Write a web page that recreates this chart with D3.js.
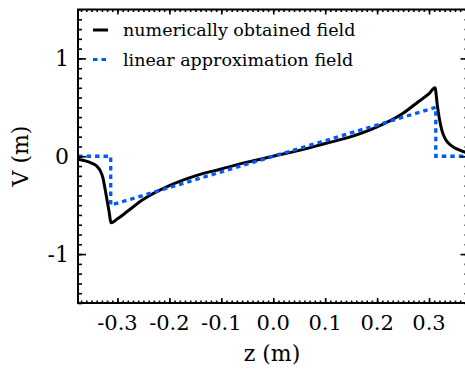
<!DOCTYPE html>
<html>
<head>
<meta charset="utf-8">
<script src="https://cdn.jsdelivr.net/npm/d3@7"></script>
<style>
  html, body { margin: 0; padding: 0; background: #fff; }
</style>
</head>
<body>
<div id="chart"></div>
<script>
// numerically obtained field
const numZ = [-0.376, -0.36, -0.35, -0.34, -0.333, -0.328, -0.324, -0.320, -0.316, -0.3125,
  -0.30, -0.28, -0.25, -0.20, -0.15, -0.10, -0.05, 0,
  0.05, 0.10, 0.15, 0.20, 0.25, 0.28, 0.30, 0.3115,
  0.316, 0.320, 0.325, 0.331, 0.338, 0.348, 0.36, 0.376];
const numV = [-0.03, -0.05, -0.07, -0.10, -0.15, -0.22, -0.33, -0.45, -0.57, -0.68,
  -0.64, -0.56, -0.44, -0.30, -0.20, -0.13, -0.06, 0,
  0.06, 0.13, 0.20, 0.30, 0.44, 0.56, 0.64, 0.70,
  0.52, 0.38, 0.26, 0.18, 0.13, 0.09, 0.06, 0.03];

// linear approximation field
const linZ = [-0.376, -0.313, -0.313, 0.313, 0.313, 0.376];
const linV = [0, 0, -0.5, 0.5, 0, 0];

const xTicks = [-0.3, -0.2, -0.1, 0.0, 0.1, 0.2, 0.3];
const yTicks = [-1, 0, 1];
const legendLabels = ["numerically obtained field", "linear approximation field"];

const W = 465, H = 371;
const blue = "#0058ff";
const FONT = "'DejaVu Serif', 'Liberation Serif', serif";

const svg = d3.select("#chart").append("svg")
  .attr("width", W).attr("height", H);

const x = d3.scaleLinear().domain([-0.376, 0.376]).range([78, 468.5]);
const y = d3.scaleLinear().domain([-1.5, 1.5]).range([303, 9.5]);

const numData = numZ.map((z, i) => [z, numV[i]]);
const linData = linZ.map((z, i) => [z, linV[i]]);

svg.append("path").datum(numData)
  .attr("d", d3.line().x(d => x(d[0])).y(d => y(d[1])).curve(d3.curveMonotoneX))
  .attr("fill", "none").attr("stroke", "#000")
  .attr("stroke-width", 3).attr("stroke-linejoin", "miter");

svg.append("path").datum(linData)
  .attr("d", d3.line().x(d => x(d[0])).y(d => y(d[1])))
  .attr("fill", "none").attr("stroke", blue)
  .attr("stroke-width", 3.3).attr("stroke-dasharray", "4.5,4");

// axes: major + minor ticks pointing inward, on all four sides
const xMinor = d3.range(-37, 38).map(d => d / 100);
const yMinor = d3.range(-15, 16).map(d => d / 10);
const fmtX = d => d3.format(".1f")(d).replace("−", "-");

function ax(axis, tr) {
  const g = svg.append("g").attr("transform", tr).call(axis);
  g.select(".domain").remove();
  g.selectAll("line").attr("stroke", "#000").attr("stroke-width", 1.6);
  return g;
}

ax(d3.axisTop(x).tickValues(xMinor).tickSize(2.5).tickFormat(""), `translate(0,${y(-1.5)})`);
ax(d3.axisTop(x).tickValues(xTicks).tickSize(5).tickFormat(""), `translate(0,${y(-1.5)})`);
ax(d3.axisBottom(x).tickValues(xMinor).tickSize(2.5).tickFormat(""), `translate(0,${y(1.5)})`);
ax(d3.axisBottom(x).tickValues(xTicks).tickSize(5).tickFormat(""), `translate(0,${y(1.5)})`);
ax(d3.axisRight(y).tickValues(yMinor).tickSize(4).tickFormat(""), `translate(${x(-0.376)},0)`);
ax(d3.axisRight(y).tickValues(yTicks).tickSize(8).tickFormat(""), `translate(${x(-0.376)},0)`);
ax(d3.axisLeft(y).tickValues(yMinor).tickSize(4).tickFormat(""), `translate(${x(0.376)},0)`);
ax(d3.axisLeft(y).tickValues(yTicks).tickSize(8).tickFormat(""), `translate(${x(0.376)},0)`);

svg.append("rect")
  .attr("x", x(-0.376)).attr("y", y(1.5))
  .attr("width", x(0.376) - x(-0.376)).attr("height", y(-1.5) - y(1.5))
  .attr("fill", "none").attr("stroke", "#000").attr("stroke-width", 2);

// tick labels
svg.append("g").selectAll("text").data(xTicks).join("text")
  .attr("x", d => x(d)).attr("y", 330)
  .attr("text-anchor", "middle").attr("font-size", 21)
  .style("font-family", FONT)
  .text(fmtX);

svg.append("g").selectAll("text").data(yTicks).join("text")
  .attr("x", 69).attr("y", d => y(d)).attr("dy", "0.36em")
  .attr("text-anchor", "end").attr("font-size", 22)
  .style("font-family", FONT)
  .text(d => String(d));

// axis titles
svg.append("text").attr("x", 272).attr("y", 361)
  .attr("text-anchor", "middle").attr("font-size", 22)
  .style("font-family", FONT).text("z (m)");
svg.append("text")
  .attr("transform", `translate(28,156) rotate(-90)`)
  .attr("text-anchor", "middle").attr("font-size", 22)
  .style("font-family", FONT).text("V (m)");

// legend
const leg = svg.append("g");
legendLabels.forEach((lab, i) => {
  const ly = 30 + i * 29.5;
  leg.append("line")
    .attr("x1", 93).attr("x2", 108).attr("y1", ly).attr("y2", ly)
    .attr("stroke", i === 0 ? "#000" : blue)
    .attr("stroke-width", i === 0 ? 3 : 2.8)
    .attr("stroke-dasharray", i === 0 ? null : "4.5,4");
  leg.append("text").attr("x", 123).attr("y", ly + 6)
    .attr("font-size", 17.5).style("font-family", FONT).text(lab);
});
</script>
</body>
</html>
